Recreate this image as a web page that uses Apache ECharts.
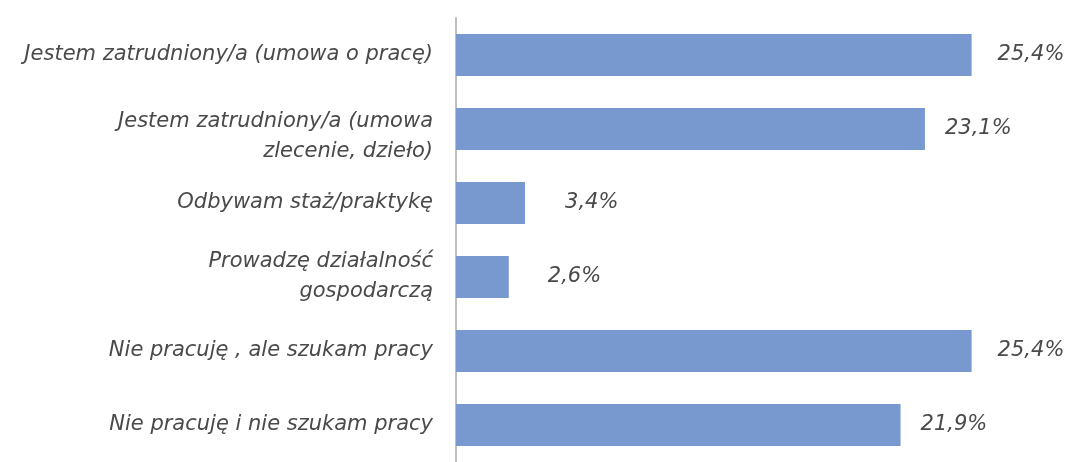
<!DOCTYPE html>
<html>
<head>
<meta charset="utf-8">
<script src="https://cdn.jsdelivr.net/npm/echarts@6/dist/echarts.min.js"></script>
<style>
  html, body { margin: 0; padding: 0; background: #fff; }
  #chart { width: 1069px; height: 462px; }
</style>
</head>
<body>
<div id="chart"></div>
<script>
// categories, top to bottom
const categories = [
  'Jestem zatrudniony/a (umowa o pracę)',
  'Jestem zatrudniony/a (umowa\nzlecenie, dzieło)',
  'Odbywam staż/praktykę',
  'Prowadzę działalność\ngospodarczą',
  'Nie pracuję , ale szukam pracy',
  'Nie pracuję i nie szukam pracy'
]
const values = [25.4, 23.1, 3.4, 2.6, 25.4, 21.9]
// gap between bar end and its label (px), as in the original
const labelGaps = [26, 20, 40, 39, 26, 20]
// category labels pushed down a bit (px)
const catNudge = [0, 16, 0, 0, 0, 0]

const chart = echarts.init(document.getElementById('chart'))

const font = '"DejaVu Sans", sans-serif'

chart.setOption({
  animation: false,
  grid: {
    left: 456,
    right: 4,
    top: 18,
    bottom: -6
  },
  xAxis: {
    type: 'value',
    min: 0,
    max: 30,
    show: false
  },
  yAxis: {
    type: 'category',
    inverse: true,
    data: categories,
    axisTick: { show: false },
    axisLine: { lineStyle: { color: '#bfbfbf', width: 2 } },
    axisLabel: {
      margin: 23,
      fontFamily: font,
      fontStyle: 'italic',
      fontSize: 21,
      lineHeight: 30,
      color: '#4a4a4a',
      align: 'right',
      formatter: (v, i) => {
        if (!catNudge[i]) return v
        return '{e| }\n' + v.split('\n').map(s => '{t|' + s + '}').join('\n')
      },
      rich: {
        e: { lineHeight: 16, fontSize: 4 },
        t: {
          fontFamily: font,
          fontStyle: 'italic',
          fontSize: 21,
          lineHeight: 30,
          color: '#4a4a4a',
          align: 'right'
        }
      }
    }
  },
  series: [
    {
      type: 'bar',
      barWidth: 42,
      itemStyle: { color: '#7899d0' },
      data: values.map((v, i) => ({
        value: v,
        label: { distance: labelGaps[i] }
      })),
      label: {
        show: true,
        position: 'right',
        fontFamily: font,
        fontStyle: 'italic',
        fontSize: 21,
        color: '#4a4a4a',
        formatter: p => p.value.toFixed(1).replace('.', ',') + '%'
      }
    }
  ]
})
</script>
</body>
</html>
